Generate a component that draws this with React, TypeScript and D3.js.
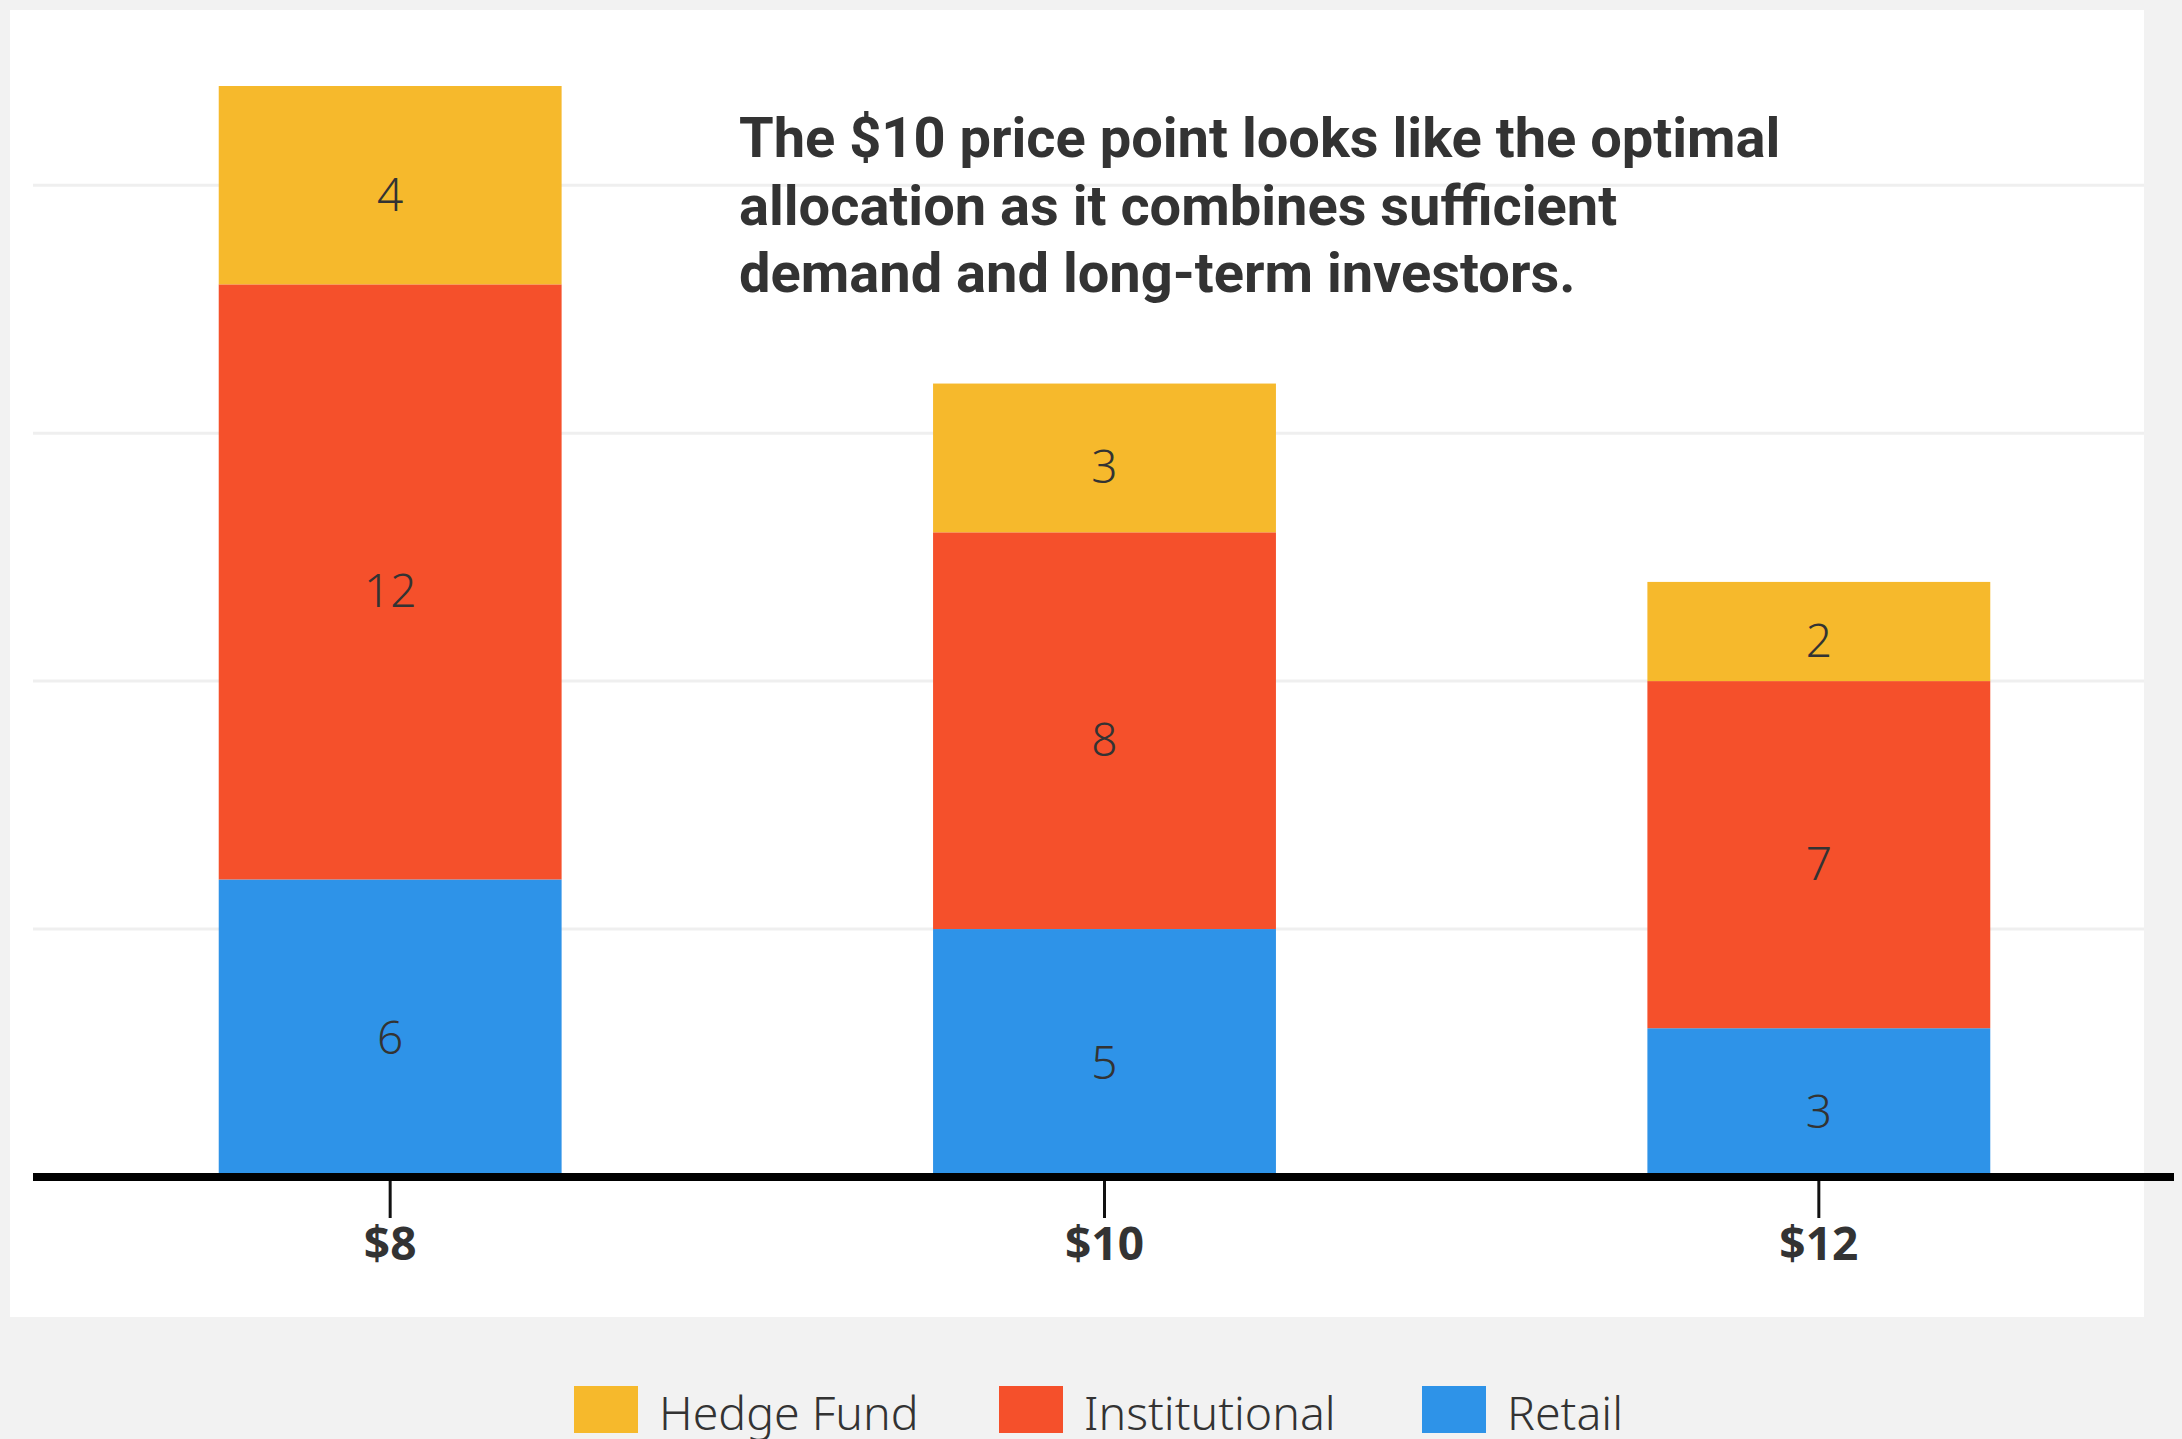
import React from "react";
import * as d3 from "d3";

const categories = ["$8", "$10", "$12"];
const seriesNames = ["Retail", "Institutional", "Hedge Fund"];
const retail = [6, 5, 3];
const institutional = [12, 8, 7];
const hedgeFund = [4, 3, 2];
const gridValues = [5, 10, 15, 20];
const legendOrder = ["Hedge Fund", "Institutional", "Retail"];
const annotationLines = [
  "The $10 price point looks like the optimal",
  "allocation as it combines sufficient",
  "demand and long-term investors.",
];

const colors: Record<string, string> = {
  "Hedge Fund": "#F6B92C",
  Institutional: "#F5502B",
  Retail: "#2E93E8",
};

const W = 2182;
const H = 1439;

export default function App() {
  const rows = categories.map((c, i) => ({
    cat: c,
    Retail: retail[i],
    Institutional: institutional[i],
    "Hedge Fund": hedgeFund[i],
  }));
  const stack = d3.stack<any>().keys(seriesNames);
  const layers = stack(rows);

  const x = d3
    .scaleBand()
    .domain(categories)
    .range([33, 2176])
    .paddingInner(0.52)
    .paddingOuter(0.26);
  const y = d3.scaleLinear().domain([0, 22]).range([1177, 86]);

  const legendX = [574, 999, 1422];

  return (
    <svg
      width={W}
      height={H}
      style={{ position: "absolute", left: 0, top: 0, display: "block" }}
    >
      <rect x={0} y={0} width={W} height={H} fill="#f2f2f2" />
      <rect x={10} y={10} width={2134} height={1307} fill="#ffffff" />
      {gridValues.map((g) => (
        <line
          key={g}
          x1={33}
          x2={2144}
          y1={y(g)}
          y2={y(g)}
          stroke="#efefef"
          strokeWidth={3}
        />
      ))}
      {layers.map((layer) => (
        <g key={layer.key} fill={colors[layer.key]}>
          {layer.map((d, i) => (
            <rect
              key={i}
              x={x(categories[i])}
              width={x.bandwidth()}
              y={y(d[1])}
              height={y(d[0]) - y(d[1])}
            />
          ))}
        </g>
      ))}
      {layers.map((layer) => (
        <g key={layer.key + "-lbl"}>
          {layer.map((d, i) => (
            <text
              key={i}
              x={(x(categories[i]) as number) + x.bandwidth() / 2}
              y={(y(d[0]) + y(d[1])) / 2 + 9}
              dy="0.36em"
              textAnchor="middle"
              fontFamily="'Noto Sans', sans-serif"
              fontWeight={350}
              fontSize={46}
              fill="#333333"
            >
              {d[1] - d[0]}
            </text>
          ))}
        </g>
      ))}
      <line x1={33} x2={2174} y1={1177} y2={1177} stroke="#000" strokeWidth={8} />
      {categories.map((c) => {
        const cx = (x(c) as number) + x.bandwidth() / 2;
        return (
          <g key={c}>
            <line x1={cx} x2={cx} y1={1181} y2={1218} stroke="#111" strokeWidth={3} />
            <text
              x={cx}
              y={1260}
              textAnchor="middle"
              fontFamily="'Noto Sans', sans-serif"
              fontWeight={700}
              fontSize={46}
              fill="#333333"
            >
              {c}
            </text>
          </g>
        );
      })}
      <g>
        {annotationLines.map((l, i) => (
          <text
            key={i}
            x={739}
            y={157 + i * 67.5}
            fontFamily="Roboto, sans-serif"
            fontWeight={700}
            fontSize={56}
            fill="#333333"
          >
            {l}
          </text>
        ))}
      </g>
      {legendOrder.map((k, i) => (
        <g key={k}>
          <rect x={legendX[i]} y={1386} width={64} height={47} fill={colors[k]} />
          <text
            x={legendX[i] + 85}
            y={1430}
            fontFamily="'Noto Sans', sans-serif"
            fontWeight={350}
            fontSize={46.5}
            fill="#333333"
          >
            {k}
          </text>
        </g>
      ))}
    </svg>
  );
}
